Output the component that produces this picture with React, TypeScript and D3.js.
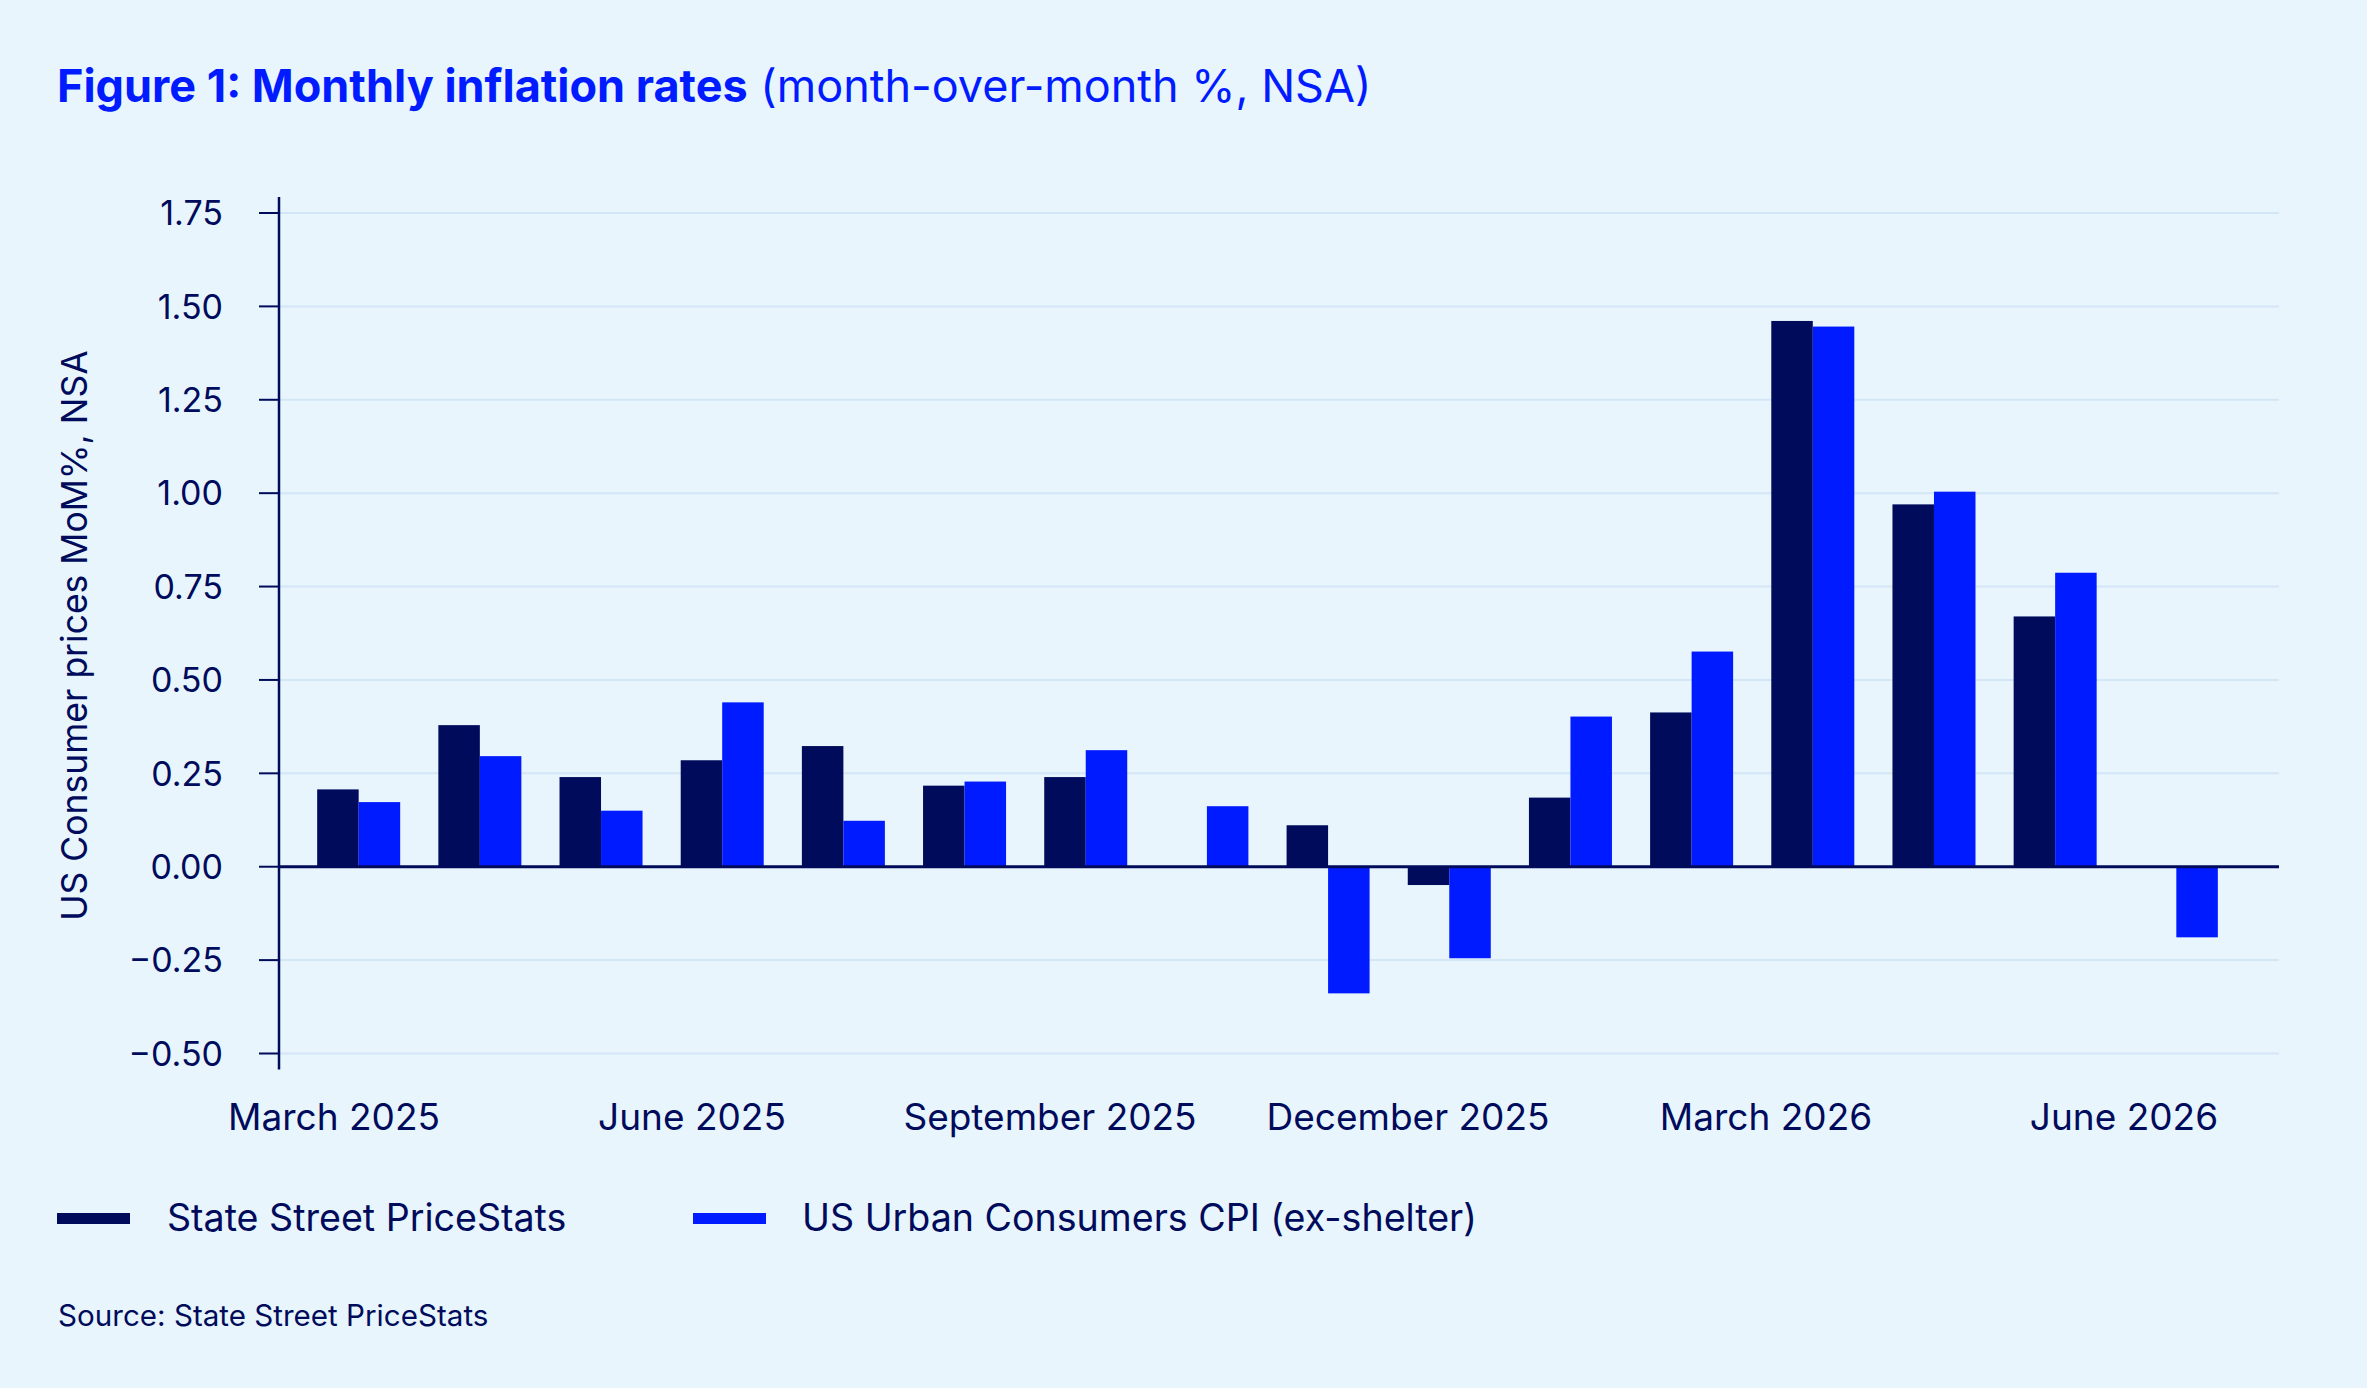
import React from "react";
import * as d3 from "d3";

const months = [
  "Mar 2025", "Apr 2025", "May 2025", "Jun 2025", "Jul 2025", "Aug 2025", "Sep 2025", "Oct 2025",
  "Nov 2025", "Dec 2025", "Jan 2026", "Feb 2026", "Mar 2026", "Apr 2026", "May 2026", "Jun 2026",
];
const priceStats: (number | null)[] = [
  0.207, 0.379, 0.240, 0.285, 0.323, 0.217, 0.240, null,
  0.111, -0.049, 0.185, 0.413, 1.461, 0.970, 0.670, null,
];
const cpiExShelter: (number | null)[] = [
  0.173, 0.296, 0.150, 0.440, 0.123, 0.228, 0.312, 0.162,
  -0.339, -0.245, 0.402, 0.576, 1.446, 1.004, 0.787, -0.189,
];
const yTicks = [-0.5, -0.25, 0, 0.25, 0.5, 0.75, 1.0, 1.25, 1.5, 1.75];
const xTickLabels = ["March 2025", "June 2025", "September 2025", "December 2025", "March 2026", "June 2026"];
const xTickMonthIndex = [0, 3, 6, 9, 12, 15];
const seriesNames = ["State Street PriceStats", "US Urban Consumers CPI (ex-shelter)"];

const W = 2367;
const H = 1388;
const BG = "#e8f5fd";
const NAVY = "#000b5b";
const BLUE = "#001bff";
const GRID = "#d3e6f6";
const FONT = "Inter, 'Noto Sans', sans-serif";

export default function App() {
  const plotLeft = 279;
  const plotRight = 2279;
  const y = d3.scaleLinear().domain([-0.5, 1.75]).range([1053.5, 213]);
  const x = d3.scaleBand<string>().domain(months).range([279, 2256]).paddingInner(0.315).paddingOuter(0.315);
  const sub = d3.scaleBand<number>().domain([0, 1]).range([0, x.bandwidth()]);
  const labelX = d3.scaleLinear().domain([0, 15]).range([334, 2124]);
  const series = [priceStats, cpiExShelter];
  const colors = [NAVY, BLUE];
  const fmt = d3.format(".2f");

  return (
    <svg width={W} height={H} style={{ position: "absolute", left: 0, top: 0, display: "block" }} fontFamily={FONT}>
      <rect x={0} y={0} width={W} height={H} fill={BG} />
      <text x={57} y={102} fontSize={45} fill={BLUE}>
        <tspan fontWeight={700}>Figure 1: Monthly inflation rates</tspan>
        <tspan> (month-over-month %, NSA)</tspan>
      </text>

      {yTicks.filter((t) => t !== 0).map((t) => (
        <line key={"g" + t} x1={plotLeft} x2={plotRight} y1={y(t)} y2={y(t)} stroke={GRID} strokeWidth={2} />
      ))}

      {series.map((vals, si) =>
        vals.map((v, i) =>
          v === null ? null : (
            <rect
              key={si + "-" + i}
              x={(x(months[i]) as number) + (sub(si) as number)}
              width={sub.bandwidth()}
              y={y(Math.max(0, v))}
              height={Math.abs(y(v) - y(0))}
              fill={colors[si]}
            />
          )
        )
      )}

      <line x1={plotLeft} x2={plotRight} y1={y(0)} y2={y(0)} stroke={NAVY} strokeWidth={3} />
      <line x1={plotLeft} x2={plotLeft} y1={y(1.75) - 16} y2={y(-0.5) + 16} stroke={NAVY} strokeWidth={2.5} />
      {yTicks.map((t) => (
        <g key={"t" + t}>
          <line x1={259} x2={plotLeft} y1={y(t)} y2={y(t)} stroke={NAVY} strokeWidth={2} />
          <text x={223} y={y(t)} dy="0.36em" textAnchor="end" fontSize={34} fill={NAVY}>
            {t < 0 ? "\u2212" + fmt(-t) : fmt(t)}
          </text>
        </g>
      ))}

      <text
        transform={`translate(87,635.5) rotate(-90)`}
        textAnchor="middle"
        fontSize={35.5}
        fill={NAVY}
      >
        US Consumer prices MoM%, NSA
      </text>

      {xTickLabels.map((l, k) => (
        <text key={l} x={labelX(xTickMonthIndex[k])} y={1129.5} textAnchor="middle" fontSize={37} fill={NAVY}>
          {l}
        </text>
      ))}

      <rect x={57} y={1213} width={73} height={11} fill={NAVY} />
      <text x={167} y={1231} fontSize={37.6} fill={NAVY}>{seriesNames[0]}</text>
      <rect x={693} y={1213} width={73} height={11} fill={BLUE} />
      <text x={802} y={1231} fontSize={37.6} fill={NAVY}>{seriesNames[1]}</text>

      <text x={58} y={1326} fontSize={29.6} fill={NAVY}>Source: State Street PriceStats</text>
    </svg>
  );
}
